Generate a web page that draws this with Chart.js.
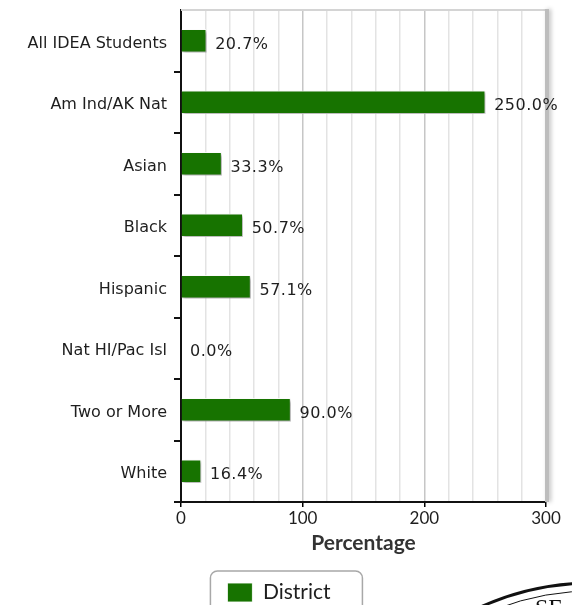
<!DOCTYPE html>
<html><head><meta charset="utf-8">
<script src="https://cdn.jsdelivr.net/npm/chart.js@4"></script>
<style>html,body{margin:0;padding:0;background:#fff;overflow:hidden}</style>
</head><body>
<canvas id="c" width="572" height="605" style="display:block;width:572px;height:605px"></canvas>
<script>
const categories = ["All IDEA Students","Am Ind/AK Nat","Asian","Black","Hispanic","Nat HI/Pac Isl","Two or More","White"];
const districtValues = [20.7, 250.0, 33.3, 50.7, 57.1, 0.0, 90.0, 16.4];
const seriesName = "District";
const axisTitle = "Percentage";
const xMin = 0, xMax = 300, xGridStep = 20, xLabelStep = 100;

const TEXT = '#1e1e1e';
const LEGEND_SHIFT = 6;

const decor = {
  id: 'decor',
  afterLayout(chart) {
    const lg = chart.legend;
    if (lg) {
      lg.left += LEGEND_SHIFT; lg.right += LEGEND_SHIFT;
      (lg.legendHitBoxes || []).forEach(h => { h.left += LEGEND_SHIFT; });
    }
  },
  beforeDatasetsDraw(chart) {
    const {ctx, chartArea: a} = chart;
    ctx.save();
    ctx.strokeStyle = '#d4d4d4'; ctx.lineWidth = 2;
    ctx.beginPath(); ctx.moveTo(a.left, a.top); ctx.lineTo(a.right, a.top); ctx.stroke();
    ctx.shadowColor = 'rgba(0,0,0,0.25)'; ctx.shadowBlur = 4; ctx.shadowOffsetX = 2;
    ctx.strokeStyle = '#bdbdbd'; ctx.lineWidth = 4;
    ctx.beginPath(); ctx.moveTo(a.right + 1, a.top - 1); ctx.lineTo(a.right + 1, a.bottom); ctx.stroke();
    ctx.restore();
    ctx.save();
    ctx.shadowColor = 'rgba(0,0,0,0.35)'; ctx.shadowBlur = 3; ctx.shadowOffsetX = 2; ctx.shadowOffsetY = 2;
  },
  afterDatasetsDraw(chart) {
    const {ctx} = chart;
    ctx.restore();
    const meta = chart.getDatasetMeta(0);
    ctx.save();
    ctx.font = '16px "DejaVu Sans"';
    try { ctx.letterSpacing = '0.5px'; } catch (e) {}
    ctx.fillStyle = TEXT;
    ctx.textBaseline = 'middle';
    ctx.textAlign = 'left';
    meta.data.forEach((bar, i) => {
      const v = chart.data.datasets[0].data[i];
      ctx.fillText(v.toFixed(1) + '%', bar.x + 9, bar.y + 4);
    });
    ctx.restore();
  },
  afterDraw(chart) {
    const {ctx} = chart;
    const lg = chart.legend;
    if (lg && lg.legendHitBoxes && lg.legendHitBoxes.length) {
      const hb = lg.legendHitBoxes[0];
      ctx.save();
      ctx.strokeStyle = '#a8a8a8'; ctx.lineWidth = 1.5;
      const x = hb.left - 17, y = 571, w = 152, h = 60, r = 7;
      ctx.beginPath();
      ctx.moveTo(x, y + h); ctx.lineTo(x, y + r); ctx.arcTo(x, y, x + r, y, r);
      ctx.lineTo(x + w - r, y); ctx.arcTo(x + w, y, x + w, y + r, r); ctx.lineTo(x + w, y + h);
      ctx.stroke();
      ctx.restore();
    }
    ctx.save();
    ctx.strokeStyle = '#111';
    ctx.lineWidth = 3;
    ctx.beginPath(); ctx.arc(592, 854, 271, Math.PI * 1.1, Math.PI * 1.6); ctx.stroke();
    ctx.lineWidth = 1;
    ctx.beginPath(); ctx.arc(592, 854, 263, Math.PI * 1.1, Math.PI * 1.6); ctx.stroke();
    ctx.fillStyle = '#111';
    ctx.font = '24px "Liberation Serif"';
    ctx.fillText('SE', 535, 609);
    ctx.restore();
  }
};

new Chart(document.getElementById('c'), {
  type: 'bar',
  data: {
    labels: categories,
    datasets: [{
      label: seriesName,
      data: districtValues,
      backgroundColor: '#177300',
      borderColor: 'rgba(255,255,255,0.85)',
      borderWidth: 1,
      barThickness: 23
    }]
  },
  options: {
    indexAxis: 'y',
    responsive: false,
    animation: false,
    layout: { padding: { top: 10, right: 26, left: 0, bottom: -8 } },
    scales: {
      x: {
        min: xMin, max: xMax,
        afterFit(s) { s.height = 70; },
        ticks: {
          stepSize: xGridStep, autoSkip: false,
          callback: v => (v % xLabelStep === 0 ? v : ''),
          color: TEXT, font: { family: 'Lato', size: 17 }, padding: 1, maxRotation: 0
        },
        grid: {
          color: c => (c.tick && c.tick.value % xLabelStep === 0 ? '#c6c6c6' : '#e3e3e3'),
          tickColor: c => (c.tick && c.tick.value % xLabelStep === 0 ? '#000' : 'rgba(0,0,0,0)'),
          tickLength: 5, lineWidth: 1.5
        },
        border: { display: true, color: '#111', width: 2 },
        title: { display: true, text: axisTitle, color: '#333', font: { family: 'Lato', size: 21, weight: 'bold' }, padding: { top: 2, bottom: 16 } }
      },
      y: {
        afterFit(s) { s.width = 181; s.paddingTop = 0; s.paddingBottom = 0; },
        ticks: { color: TEXT, font: { family: 'DejaVu Sans', size: 16 }, padding: 7, labelOffset: 3 },
        grid: { offset: true, drawOnChartArea: false, tickColor: c => (c.index === 0 ? 'rgba(0,0,0,0)' : '#111'), tickLength: 7, lineWidth: 2 },
        border: { display: true, color: '#111', width: 2 }
      }
    },
    plugins: {
      legend: {
        position: 'bottom',
        labels: { boxWidth: 25, boxHeight: 19, color: TEXT, font: { family: 'Lato', size: 21 }, padding: 10 }
      },
      tooltip: { enabled: false }
    }
  },
  plugins: [decor]
});
</script>
</body></html>
